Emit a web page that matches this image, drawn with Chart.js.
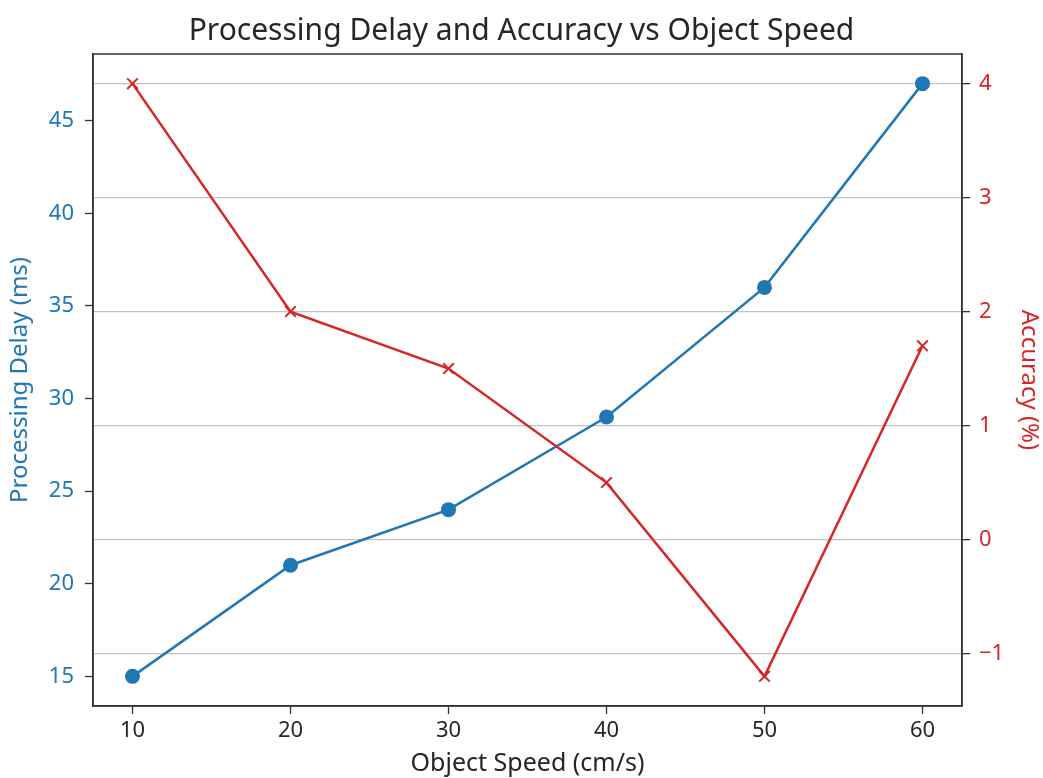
<!DOCTYPE html>
<html><head><meta charset="utf-8">
<script src="https://cdn.jsdelivr.net/npm/chart.js@4"></script>
<style>html,body{margin:0;padding:0;background:#fff}#wrap{width:1043px;height:778px}</style>
</head><body><div id="wrap"><canvas id="c" width="1043" height="778"></canvas></div>
<script>
const speeds = [10, 20, 30, 40, 50, 60];
const delayMs = [15, 21, 24, 29, 36, 47];
const accuracyPct = [4, 2, 1.5, 0.5, -1.2, 1.7];
const xTicks = [10, 20, 30, 40, 50, 60];
const delayTicks = [15, 20, 25, 30, 35, 40, 45];
const accTicks = [-1, 0, 1, 2, 3, 4];

const FONT = "'Noto Sans', sans-serif";
const BLUE = '#1f77b4', RED = '#d62728', DARK = '#262626';

function fixTicks(list){ return function(scale){ scale.ticks = list.map(v => ({value: v})); }; }
const frame = {
  id: 'frame',
  afterDraw(chart){
    const a = chart.chartArea, ctx = chart.ctx;
    ctx.save(); ctx.strokeStyle = '#333'; ctx.lineWidth = 1.5;
    ctx.strokeRect(a.left, a.top, a.right - a.left, a.bottom - a.top);
    ctx.restore();
  }
};

new Chart(document.getElementById('c'), {
  type: 'line',
  data: {
    datasets: [
      { label: 'Accuracy (%)', yAxisID: 'y1', order: 0,
        data: speeds.map((s, i) => ({x: s, y: accuracyPct[i]})),
        borderColor: RED, backgroundColor: RED, borderWidth: 2.5,
        pointStyle: 'crossRot', pointRadius: 7.5, pointBorderWidth: 2, pointBorderColor: RED },
      { label: 'Processing Delay (ms)', yAxisID: 'y', order: 1,
        data: speeds.map((s, i) => ({x: s, y: delayMs[i]})),
        borderColor: BLUE, backgroundColor: BLUE, borderWidth: 2.5,
        pointStyle: 'circle', pointRadius: 7.5, pointBorderWidth: 0 }
    ]
  },
  options: {
    responsive: false, animation: false,
    layout: { padding: 0 },
    plugins: {
      legend: { display: false }, tooltip: { enabled: false },
      title: { display: true, text: 'Processing Delay and Accuracy vs Object Speed',
        color: DARK, font: { family: FONT, size: 30, weight: 'normal' }, padding: { top: 13, bottom: 5 } }
    },
    scales: {
      x: { type: 'linear', position: 'bottom', min: 7.5, max: 62.5,
        afterBuildTicks: fixTicks(xTicks),
        afterFit(s){ s.height = 72; },
        grid: { drawOnChartArea: false, tickLength: 8, color: '#333', tickWidth: 1.3 },
        border: { display: true, color: '#333', width: 1.5 },
        ticks: { color: DARK, font: { family: FONT, size: 22 }, padding: 4, maxRotation: 0 },
        title: { display: true, text: 'Object Speed (cm/s)', color: DARK,
          font: { family: FONT, size: 25 }, padding: { top: 0, bottom: -1 } } },
      y: { type: 'linear', position: 'left', min: 13.4, max: 48.6,
        afterBuildTicks: fixTicks(delayTicks),
        afterFit(s){ s.width = 93; },
        grid: { drawOnChartArea: false, tickLength: 8, color: '#333', tickWidth: 1.3 },
        border: { display: true, color: '#333', width: 1.5 },
        ticks: { color: BLUE, font: { family: FONT, size: 22 }, padding: 11 },
        title: { display: true, text: 'Processing Delay (ms)', color: BLUE,
          font: { family: FONT, size: 24 }, padding: { top: 6, bottom: 0 } } },
      y1: { type: 'linear', position: 'right', min: -1.46, max: 4.26,
        afterBuildTicks: fixTicks(accTicks),
        afterFit(s){ s.width = 81; },
        grid: { drawOnChartArea: true, tickLength: 8, color: '#c4c4c4', lineWidth: 1.3, tickColor: '#333', tickWidth: 1.3 },
        border: { display: true, color: '#333', width: 1.5 },
        ticks: { color: RED, font: { family: FONT, size: 22 }, padding: 9,
          callback: v => (v < 0 ? '\u2212' + Math.abs(v) : String(v)) },
        title: { display: true, text: 'Accuracy (%)', color: RED,
          font: { family: FONT, size: 24 }, padding: { top: 0, bottom: 0 } } }
    }
  },
  plugins: [frame]
});
</script></body></html>
